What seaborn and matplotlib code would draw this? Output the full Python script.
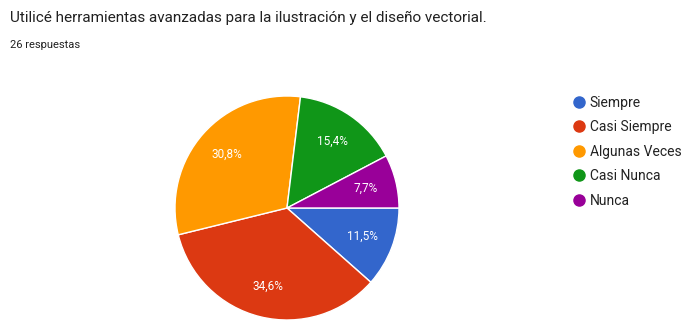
import matplotlib
matplotlib.use("Agg")
import matplotlib.pyplot as plt
from matplotlib.lines import Line2D
import seaborn as sns

# Survey answers (26 responses)
categories = ["Siempre", "Casi Siempre", "Algunas Veces", "Casi Nunca", "Nunca"]
counts = [3, 9, 8, 4, 2]
hex_colors = ["#3366CC", "#DC3912", "#FF9900", "#109618", "#990099"]

title = "Utilicé herramientas avanzadas para la ilustración y el diseño vectorial."
subtitle = "26 respuestas"

sns.set_theme(style="white")
plt.rcParams["font.family"] = ["Roboto", "DejaVu Sans"]
palette = sns.color_palette(hex_colors)

fig = plt.figure(figsize=(6.92, 3.22), dpi=100)
fig.patch.set_facecolor("white")

ax = fig.add_axes([175 / 692, 2 / 322, 224 / 692, 224 / 322])


def fmt_pct(p):
    return f"{p:.1f}%".replace(".", ",")


wedges, texts, autotexts = ax.pie(
    counts,
    colors=palette,
    startangle=0,
    counterclock=False,
    autopct=fmt_pct,
    pctdistance=0.72,
    wedgeprops=dict(edgecolor="white", linewidth=1),
    textprops=dict(color="white", fontsize=8.5),
)
ax.set_xlim(-1, 1)
ax.set_ylim(-1, 1)
ax.set_aspect("equal")
ax.axis("off")

fig.text(10 / 692, 1 - 18 / 322, title, fontsize=11, color="#212121",
         va="center", ha="left")
fig.text(10 / 692, 1 - 45 / 322, subtitle, fontsize=8, color="#212121",
         va="center", ha="left")

handles = [
    Line2D([0], [0], marker="o", linestyle="none", markersize=8,
           markerfacecolor=c, markeredgecolor=c)
    for c in palette
]
leg = fig.legend(
    handles, categories,
    loc="upper left", bbox_to_anchor=(566 / 692, 1 - 90 / 322),
    frameon=False, fontsize=10, handletextpad=0.3,
    labelspacing=0.76, handlelength=1.0, borderaxespad=0,
    labelcolor="#222222",
)

fig.savefig("out.png", dpi=100, facecolor="white")
